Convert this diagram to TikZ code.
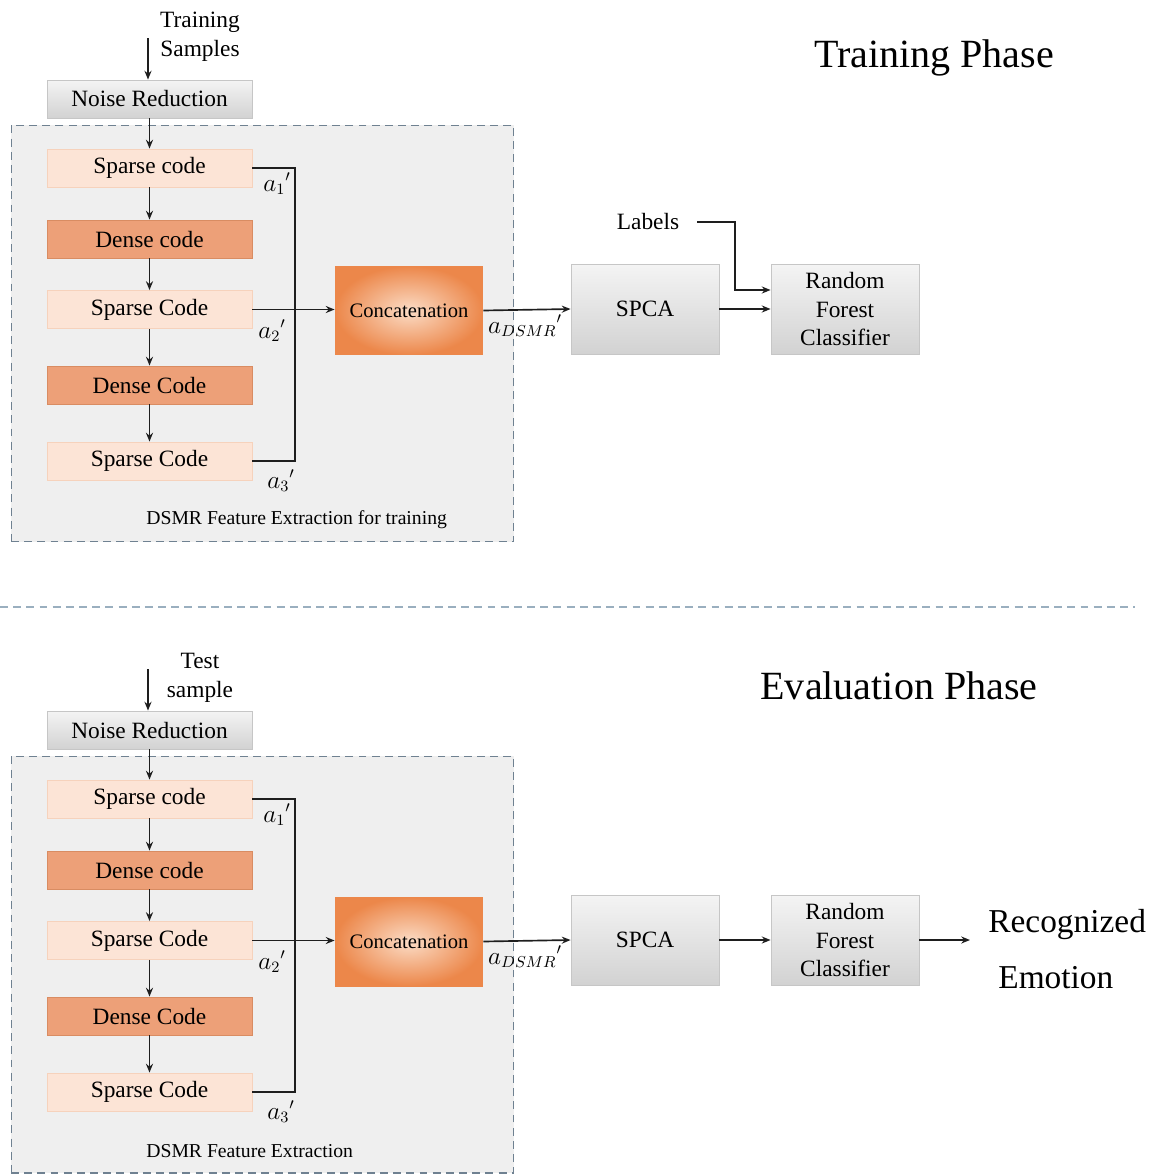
\documentclass[tikz,border=0pt]{standalone}
\usepackage{fontspec}
\setmainfont{Liberation Serif}
\usetikzlibrary{arrows.meta,calc}
\definecolor{sparsefill}{HTML}{FCE4D6}
\definecolor{sparsedraw}{HTML}{F6D2BC}
\definecolor{densefill}{HTML}{EDA078}
\definecolor{densedraw}{HTML}{D98C62}
\definecolor{panelfill}{HTML}{EFEFEF}
\definecolor{panelborder}{HTML}{6F8191}
\definecolor{grayTop}{HTML}{F4F4F4}
\definecolor{grayBot}{HTML}{D2D2D2}
\definecolor{boxborder}{HTML}{C6C6C6}
\definecolor{concatOuter}{HTML}{EC874A}
\definecolor{concatInner}{HTML}{FBDCC6}
\definecolor{linecol}{HTML}{1E1E1E}
\definecolor{sepcol}{HTML}{9AAFBF}
\newcommand\dsmrpipe[4]{%
  \node[panelbox] (#1panel) at (262.5,333.5) {};
  \node[paneltxt, anchor=west] (#1plab) at (146,520) {#3};
  \node[txt, align=center] (#1in) at (200,#4) {#2};
  \coordinate (#1inS) at (148,38);
  \node[graybox, minimum width=4.1cm, minimum height=0.76cm] (#1nr) at (149.5,99) {Noise Reduction};
  \node[sparsebox] (#1s1) at (149.5,168) {Sparse code};
  \node[densebox]  (#1d1) at (149.5,239) {Dense code};
  \node[sparsebox] (#1s2) at (149.5,309.5) {Sparse Code};
  \node[densebox]  (#1d2) at (149.5,385) {Dense Code};
  \node[sparsebox] (#1s3) at (149.5,461) {Sparse Code};
  \node[concatbox] (#1cc) at (409,310.5) {Concatenation};
  \node[graybox, minimum width=2.96cm, minimum height=1.8cm] (#1sp) at (645,309) {SPCA};
  \node[graybox, minimum width=2.96cm, minimum height=1.8cm, align=center] (#1rf) at (845,309) {Random\\Forest\\Classifier};
  \draw[arr] (#1inS) -- (#1inS |- #1nr.north);
  \draw[arr] (#1nr.south) -- (#1s1.north);
  \draw[arr] (#1s1.south) -- (#1d1.north);
  \draw[arr] (#1d1.south) -- (#1s2.north);
  \draw[arr] (#1s2.south) -- (#1d2.north);
  \draw[arr] (#1d2.south) -- (#1s3.north);
  \coordinate (#1bt) at (295,168);
  \coordinate (#1bb) at (295,461);
  \draw[conn] (#1s1.east) -- (#1bt) -- (#1bb) -- (#1s3.east);
  \draw[arr] (#1s2.east) -- (#1s2.east -| #1cc.west);
  \node[mathlab] (#1a1) at (277,184) {${a_1}'$};
  \node[mathlab] (#1a2) at (272,331) {${a_2}'$};
  \node[mathlab] (#1a3) at (281,481) {${a_3}'$};
  \draw[arr] (#1cc.east) -- (#1sp.west);
  \node[mathlab] (#1ad) at (525,326) {${a_{DSMR}}'$};
  \draw[arr] (#1sp.east) -- (#1sp.east -| #1rf.west);
}
\begin{document}
\begin{tikzpicture}[x=0.02cm,y=-0.02cm,
  txt/.style={font=\rmfamily\fontsize{13.3}{16.5}\selectfont, text=black, inner sep=1pt},
  paneltxt/.style={font=\rmfamily\fontsize{11.2}{13}\selectfont, text=black, inner sep=0pt},
  mathlab/.style={font=\fontsize{13.5}{15}\selectfont, inner sep=0pt},
  basebox/.style={txt, inner sep=0pt, line width=0.5pt},
  sparsebox/.style={basebox, draw=sparsedraw, fill=sparsefill, minimum width=4.1cm, minimum height=0.76cm},
  densebox/.style={basebox, draw=densedraw, fill=densefill, minimum width=4.1cm, minimum height=0.76cm},
  graybox/.style={basebox, draw=boxborder, top color=grayTop, bottom color=grayBot},
  concatbox/.style={basebox, font=\rmfamily\fontsize{11.7}{14}\selectfont, inner color=concatInner, outer color=concatOuter, minimum width=2.96cm, minimum height=1.78cm},
  panelbox/.style={draw=panelborder, fill=panelfill, dash pattern=on 4.5pt off 3pt, line width=0.6pt, minimum width=10.06cm, minimum height=8.34cm, inner sep=0pt},
  conn/.style={draw=linecol, line width=0.95pt},
  arr/.style={conn, -{Stealth[length=5pt,width=4pt]}},
  title/.style={font=\rmfamily\fontsize{22.8}{26}\selectfont, text=black},
]
\useasboundingbox (0,0) rectangle (1150,1174);
\fill[white] (0,0) rectangle (1150,1174);

% Training phase
\dsmrpipe{t}{Training\\Samples}{DSMR Feature Extraction for training}{37}
\node[title] (ttitle) at (934,58) {Training Phase};
\node[txt] (tlab) at (648,222) {Labels};
\coordinate (tlt) at (735,222);
\draw[arr] ([xshift=9pt]tlab.east) -- (tlt) |- ($(trf.west)+(0,-19)$);

% separator
\coordinate (sepL) at (0,607);
\coordinate (sepR) at (1135,607);
\draw[draw=sepcol, line width=0.8pt, dash pattern=on 4.5pt off 3pt] (sepL) -- (sepR);

% Evaluation phase
\begin{scope}[shift={(0,631)}]
\dsmrpipe{e}{Test\\sample}{DSMR Feature Extraction}{47}
\node[title] (etitle) at (899,55) {Evaluation Phase};
\node[font=\rmfamily\fontsize{19}{32}\selectfont, align=left, anchor=west, inner sep=0pt] (eout) at (988,318) {Recognized\\\hspace*{5.7pt}Emotion};
\draw[arr] (erf.east) -- ($(eout.west |- erf.east)+(-18,0)$);
\end{scope}
\end{tikzpicture}
\end{document}
